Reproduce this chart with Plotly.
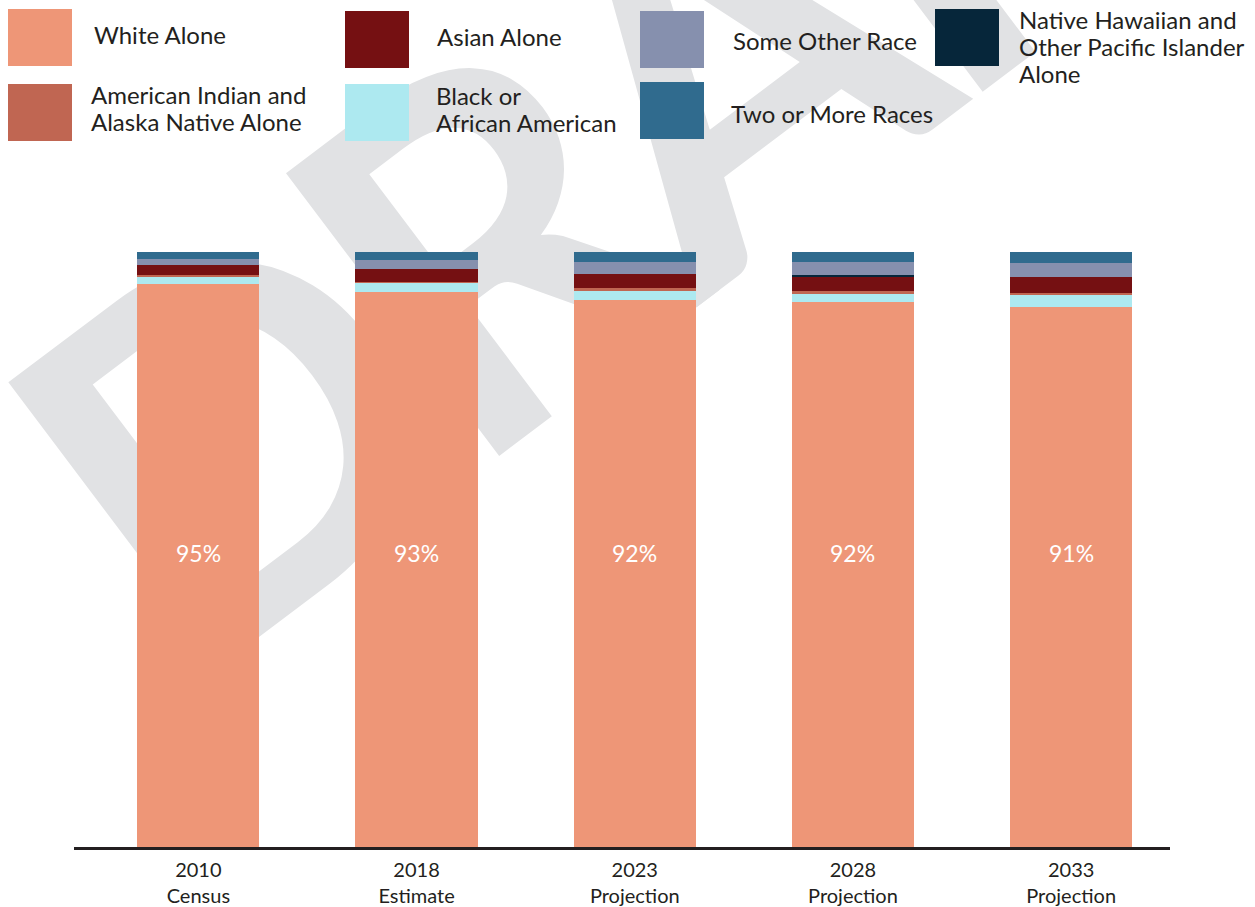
import base64
import plotly.graph_objects as go

# ---------------- data ----------------
categories = ["2010<br>Census", "2018<br>Estimate", "2023<br>Projection",
              "2028<br>Projection", "2033<br>Projection"]

white = [94.7, 93.3, 91.9, 91.6, 90.8]
black = [1.2, 1.5, 1.7, 1.5, 2.0]
am_indian = [0.3, 0.1, 0.3, 0.3, 0.3]
asian = [1.6, 2.2, 2.4, 2.4, 2.7]
nh_pi = [0.0, 0.0, 0.0, 0.3, 0.0]
other = [1.0, 1.6, 2.0, 2.2, 2.4]
two_plus = [1.2, 1.3, 1.7, 1.7, 1.8]

series_names = ["White Alone", "Black or<br>African American",
                "American Indian and<br>Alaska Native Alone", "Asian Alone",
                "Native Hawaiian and<br>Other Pacific Islander<br>Alone",
                "Some Other Race", "Two or More Races"]
series_values = [white, black, am_indian, asian, nh_pi, other, two_plus]
series_colors = ["#EE9677", "#ADE9F0", "#C06652", "#751012",
                 "#06263A", "#8690AE", "#306B8E"]

# ---------------- layout constants ----------------
W, H = 1255, 907
ML, MR, MT, MB = 74, 85, 252, 60
PW, PH = W - ML - MR, H - MT - MB
FONT = "Lato, 'Open Sans', sans-serif"
TXT = "#231f20"


def px_x(px):
    return (px - ML) / PW


def px_y(py):
    return (H - MB - py) / PH


fig = go.Figure()
for name, vals, col in zip(series_names, series_values, series_colors):
    fig.add_trace(go.Bar(x=categories, y=vals, name=name.replace("<br>", " "),
                         marker=dict(color=col, line=dict(width=0)),
                         hoverinfo="skip"))

# value labels (white share), placed at half of each stacked total
totals = [sum(v) for v in zip(*series_values)]
annotations = []
for c, w, t in zip(categories, white, totals):
    annotations.append(dict(x=c, y=t / 2, xref="x", yref="y", text=f"{round(w)}%",
                            showarrow=False, yshift=-3,
                            font=dict(color="white", size=23, family=FONT)))

# custom legend (large swatches)
legend_order = ["White Alone", "Asian Alone", "Some Other Race",
                "Native Hawaiian and<br>Other Pacific Islander<br>Alone",
                "American Indian and<br>Alaska Native Alone", "Black or<br>African American",
                "Two or More Races"]
legend_swatch = [(8, 9), (345, 11), (640, 11), (935, 9), (8, 84), (345, 84), (640, 82)]
legend_text = [(92, 35), (435, 37), (731, 41), (1017, 19), (89, 94), (434, 95), (729, 114)]
LINE_H = 27.5
SW, SH = 64, 57
shapes = []
for nm, (sx, sy), (tx, ty) in zip(legend_order, legend_swatch, legend_text):
    col = series_colors[series_names.index(nm)]
    shapes.append(dict(type="rect", xref="paper", yref="paper",
                       x0=px_x(sx), x1=px_x(sx + SW), y0=px_y(sy + SH), y1=px_y(sy),
                       fillcolor=col, line=dict(width=0), layer="above"))
    for k, line in enumerate(nm.split("<br>")):
        annotations.append(dict(x=px_x(tx), y=px_y(ty + k * LINE_H), xref="paper", yref="paper",
                                text=line, showarrow=False, xanchor="left", yanchor="middle",
                                align="left", font=dict(size=24, color=TXT, family=FONT)))

# DRAFT watermark as background image
svg = ('<svg xmlns="http://www.w3.org/2000/svg" width="1255" height="907" viewBox="0 0 1255 907">'
       '<text x="190" y="689" transform="rotate(-37 190 689)" font-family="Lato, sans-serif" '
       'font-weight="700" font-size="490" letter-spacing="-25" fill="#e1e2e4">DRAFT</text></svg>')
src = "data:image/svg+xml;base64," + base64.b64encode(svg.encode()).decode()
images = [dict(source=src, xref="paper", yref="paper", x=-ML / PW, y=1 + MT / PH,
               sizex=W / PW, sizey=H / PH, xanchor="left", yanchor="top",
               sizing="stretch", layer="below")]

fig.update_layout(
    barmode="stack", bargap=0.44, showlegend=False,
    width=W, height=H, margin=dict(l=ML, r=MR, t=MT, b=MB, autoexpand=False),
    paper_bgcolor="white", plot_bgcolor="rgba(0,0,0,0)",
    font=dict(family=FONT, color=TXT),
    annotations=annotations, shapes=shapes, images=images,
    xaxis=dict(type="category", range=[-0.57, 4.453], showline=True, linecolor=TXT,
               linewidth=2.5, ticks="", showgrid=False, zeroline=False,
               ticklabelstandoff=3, automargin=False,
               tickfont=dict(size=20, color=TXT, family=FONT)),
    yaxis=dict(range=[0, 100], visible=False, showgrid=False, automargin=False),
)

fig.write_html("out.html", config={"displayModeBar": False},
               post_script="document.body.style.margin='0';")
